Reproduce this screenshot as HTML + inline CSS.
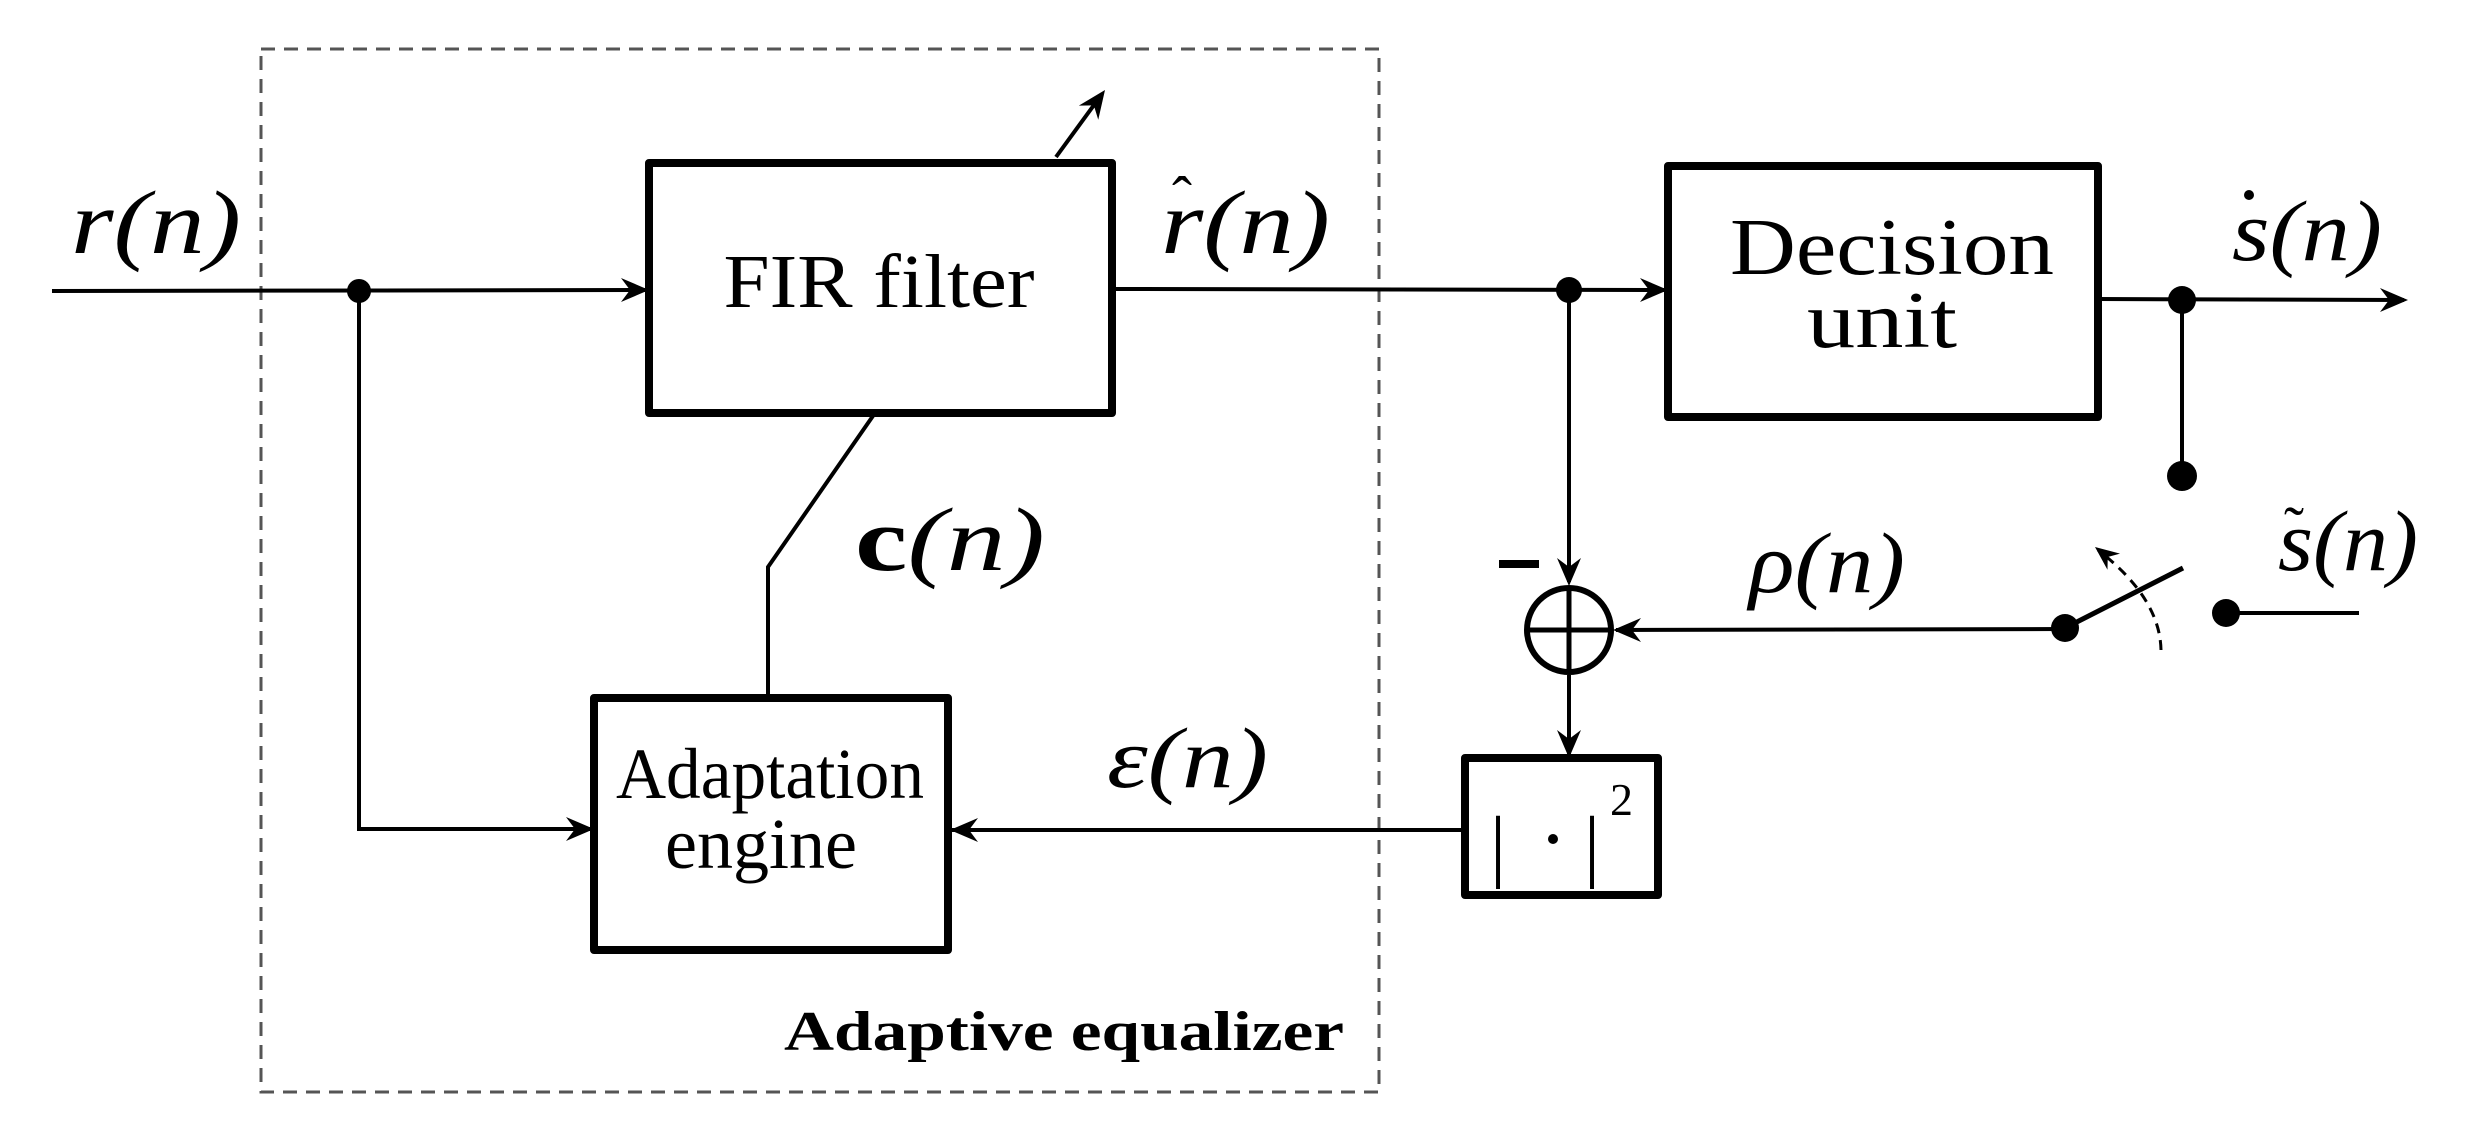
<!DOCTYPE html>
<html><head><meta charset="utf-8"><style>
html,body{margin:0;padding:0;background:#fff;}
svg{display:block;}
text{font-family:"Liberation Serif",serif;fill:#000;}
.m{font-style:italic;}
</style></head><body>
<svg width="2478" height="1132" viewBox="0 0 2478 1132" xmlns="http://www.w3.org/2000/svg">
<defs>
<path id="ah" d="M0,0 L-28,-12 L-19,0 L-28,12 Z" fill="#000"/>
</defs>
<rect x="261" y="49" width="1118" height="1043" fill="none" stroke="#555" stroke-width="3" stroke-dasharray="14,9"/>
<g stroke="#000" stroke-width="4" fill="none">
<line x1="52" y1="291" x2="645" y2="290"/>
<polyline points="359,291 359,829 590,829"/>
<line x1="1112" y1="289" x2="1664" y2="290"/>
<line x1="2098" y1="299" x2="2404" y2="300"/>
<line x1="2182" y1="300" x2="2182" y2="476"/>
<line x1="1569" y1="290" x2="1569" y2="582"/>
<line x1="1569" y1="675" x2="1569" y2="754"/>
<line x1="1616" y1="630" x2="2065" y2="629"/>
<line x1="2065" y1="628" x2="2183" y2="568" stroke-width="5"/>
<line x1="2226" y1="613" x2="2359" y2="613"/>
<line x1="1465" y1="830" x2="952" y2="830"/>
<polyline points="875,413 768,567 768,697"/>
<line x1="1056" y1="157" x2="1102" y2="94"/>
<path d="M2161,650 Q2160,598 2098,550" stroke-dasharray="10,7" stroke-width="3"/>
<circle cx="1569" cy="630" r="42" stroke-width="6"/>
<line x1="1527" y1="630" x2="1611" y2="630" stroke-width="5"/>
<line x1="1569" y1="588" x2="1569" y2="672" stroke-width="5"/>
</g>
<g fill="none" stroke="#000" stroke-width="8" stroke-linejoin="round">
<rect x="649" y="163" width="463" height="250"/>
<rect x="594" y="698" width="354" height="252"/>
<rect x="1668" y="166" width="430" height="251"/>
<rect x="1465" y="758" width="193" height="137"/>
</g>
<rect x="1499" y="560" width="40" height="8" fill="#000"/>
<g fill="#000">
<circle cx="359" cy="291" r="12"/>
<circle cx="1569" cy="290" r="13"/>
<circle cx="2182" cy="300" r="14"/>
<circle cx="2182" cy="476" r="15"/>
<circle cx="2065" cy="628" r="14"/>
<circle cx="2226" cy="613" r="14"/>
</g>
<use href="#ah" transform="translate(649,290)"/>
<use href="#ah" transform="translate(1668,290)"/>
<use href="#ah" transform="translate(2408,300)"/>
<use href="#ah" transform="translate(594,829)"/>
<use href="#ah" transform="translate(950,830) rotate(180)"/>
<use href="#ah" transform="translate(1569,586) rotate(90)"/>
<use href="#ah" transform="translate(1569,758) rotate(90)"/>
<use href="#ah" transform="translate(1613,630) rotate(180)"/>
<use href="#ah" transform="translate(1105,90) rotate(-54)"/>
<use href="#ah" transform="translate(2095,547) rotate(-142) scale(0.85)"/>
<text x="879" y="307" font-size="76" text-anchor="middle" textLength="311" lengthAdjust="spacingAndGlyphs">FIR filter</text>
<text x="770" y="798" font-size="72" text-anchor="middle" textLength="308" lengthAdjust="spacingAndGlyphs">Adaptation</text>
<text x="761" y="868" font-size="72" text-anchor="middle" textLength="192" lengthAdjust="spacingAndGlyphs">engine</text>
<text x="1892" y="274" font-size="80" text-anchor="middle" textLength="324" lengthAdjust="spacingAndGlyphs">Decision</text>
<text x="1882" y="347" font-size="80" text-anchor="middle" textLength="150" lengthAdjust="spacingAndGlyphs">unit</text>
<text x="784" y="1050" font-size="56" font-weight="bold" textLength="560" lengthAdjust="spacingAndGlyphs">Adaptive equalizer</text>
<text x="71" y="253" font-size="90" class="m" textLength="170" lengthAdjust="spacingAndGlyphs">r(n)</text>
<text x="1161" y="253" font-size="90" class="m" textLength="169" lengthAdjust="spacingAndGlyphs">r(n)</text>
<text x="1172" y="218" font-size="60">ˆ</text>
<text x="855" y="570" font-size="90" textLength="190" lengthAdjust="spacingAndGlyphs"><tspan font-weight="bold">c</tspan><tspan class="m">(n)</tspan></text>
<text x="1107" y="787" font-size="86" class="m" textLength="161" lengthAdjust="spacingAndGlyphs">ε(n)</text>
<text x="1749" y="592" font-size="86" class="m" textLength="156" lengthAdjust="spacingAndGlyphs">ρ(n)</text>
<text x="2232" y="260" font-size="86" class="m" textLength="150" lengthAdjust="spacingAndGlyphs">s(n)</text>
<circle cx="2249" cy="195" r="5" fill="#000"/>
<text x="2278" y="570" font-size="86" class="m" textLength="140" lengthAdjust="spacingAndGlyphs">s(n)</text>
<text x="2284" y="548" font-size="60">˜</text>
<text x="1490" y="872" font-size="80">|</text>
<circle cx="1553" cy="839" r="5" fill="#000"/>
<text x="1584" y="872" font-size="80">|</text>
<text x="1610" y="815" font-size="46">2</text>
</svg>
</body></html>
